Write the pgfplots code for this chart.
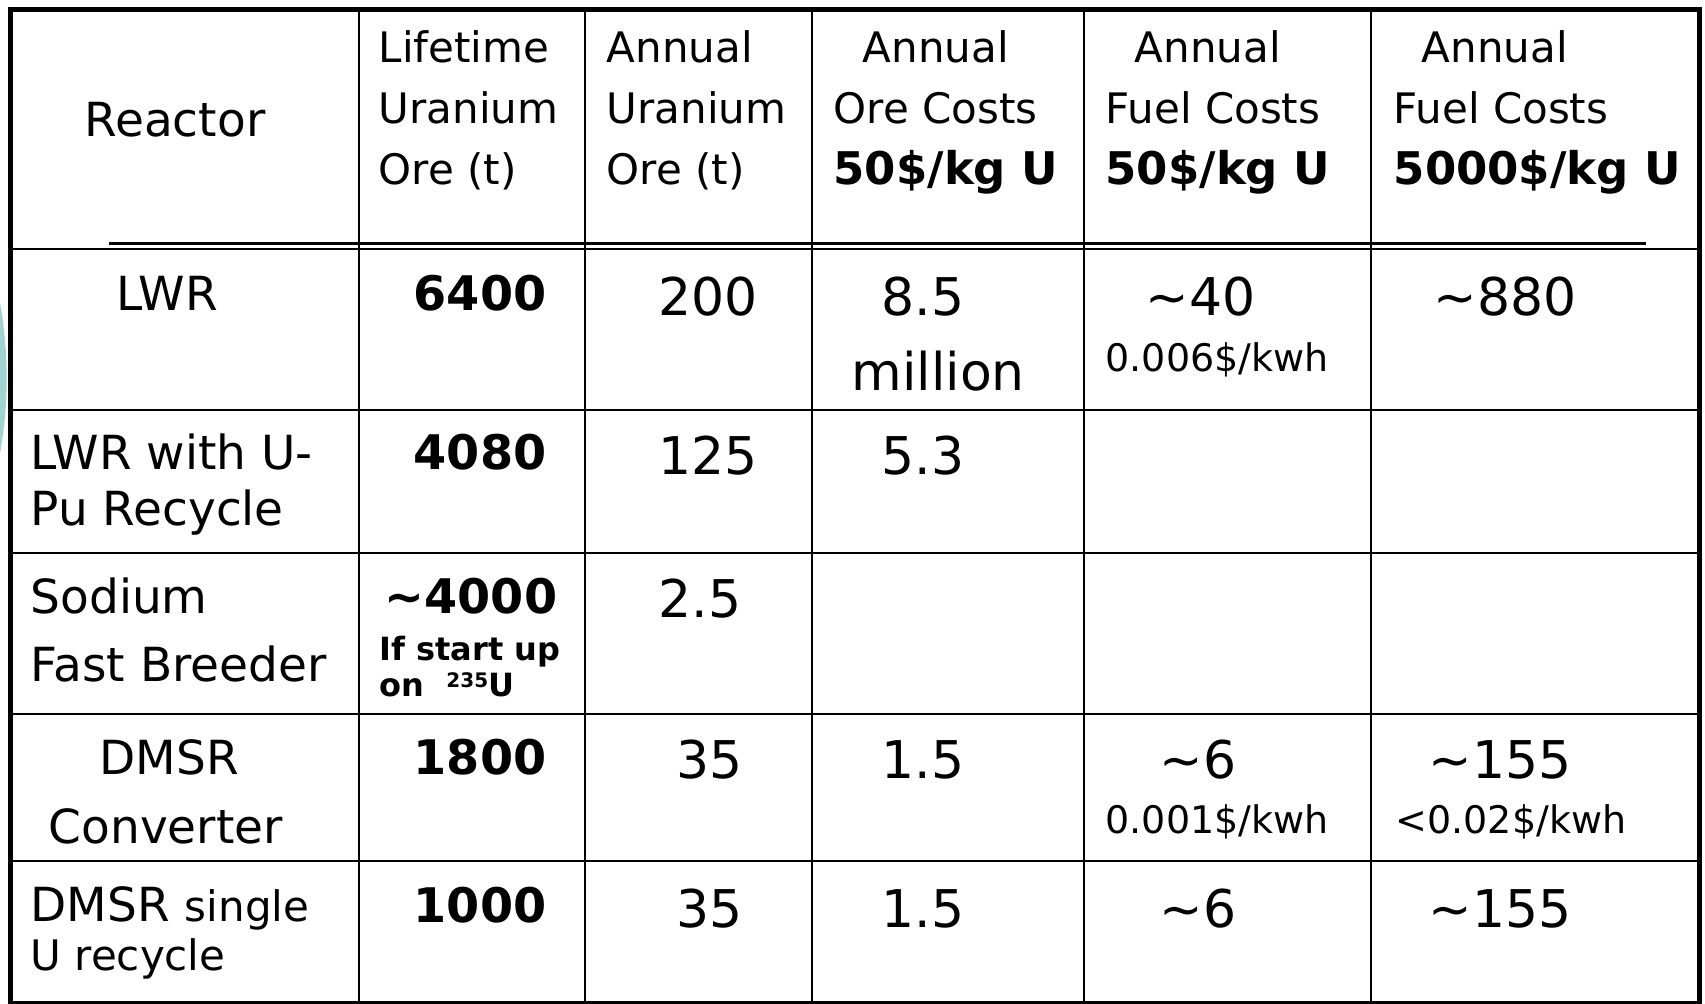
\documentclass[border=0pt]{standalone}
\usepackage{pgfplots}
\pgfplotsset{compat=1.18}
\usepackage{fontspec}
\setmainfont{DejaVu Sans}
\definecolor{teal1}{RGB}{160,211,210}
\newcommand\fH{\fontsize{12.6pt}{15pt}\selectfont}
\newcommand\fHB{\fontsize{13.5pt}{15pt}\selectfont\bfseries}
\newcommand\fN{\fontsize{14.1pt}{17pt}\selectfont}
\newcommand\fS{\fontsize{12.6pt}{15pt}\selectfont}
\newcommand\fB{\fontsize{14.3pt}{17pt}\selectfont\bfseries}
\newcommand\fV{\fontsize{15.6pt}{18pt}\selectfont}
\newcommand\fK{\fontsize{11.4pt}{14pt}\selectfont}
\newcommand\fI{\fontsize{9.6pt}{12pt}\selectfont\bfseries}
\newcommand\T[4]{\node[anchor=base west, inner sep=0pt, font=#3] at (axis cs:#1,#2) {#4};}
\begin{document}
\begin{tikzpicture}
\begin{axis}[
  width=511.5pt, height=301.2pt, scale only axis,
  xmin=0, xmax=1705, ymin=0, ymax=1004, y dir=reverse,
  hide axis, clip=false,
  unbounded coords=jump,
]
\path (axis cs:0,0) rectangle (axis cs:1705,1004);
\begin{scope}
\clip (axis cs:0,0) rectangle (axis cs:1705,1004);
\fill[teal1] (axis cs:-420,378) circle[radius=128pt];
\end{scope}
\fill[white] (axis cs:10.5,9.5) rectangle (axis cs:1699.5,1001.5);
% inner grid lines
\addplot[black, line width=0.8pt] coordinates {
 (359,9.5) (359,1001.5) (nan,nan)
 (585,9.5) (585,1001.5) (nan,nan)
 (812,9.5) (812,1001.5) (nan,nan)
 (1084,9.5) (1084,1001.5) (nan,nan)
 (1371,9.5) (1371,1001.5) (nan,nan)
 (10.5,249) (1699.5,249) (nan,nan)
 (10.5,410) (1699.5,410) (nan,nan)
 (10.5,553) (1699.5,553) (nan,nan)
 (10.5,714) (1699.5,714) (nan,nan)
 (10.5,861) (1699.5,861)
};
% header underline
\addplot[black, line width=0.9pt] coordinates {(109,244) (1646,244)};
% outer border
\addplot[black, line width=1.5pt] coordinates {
 (10.5,1001.5) (10.5,9.5) (1699.5,9.5) (1699.5,1001.5)};
\addplot[black, line width=0.9pt] coordinates {(8,1002.5) (1702,1002.5)};
% header
\T{84}{137}{\fN}{Reactor}
\T{378}{63}{\fH}{Lifetime}
\T{378}{124}{\fH}{Uranium}
\T{378}{185}{\fH}{Ore (t)}
\T{606}{63}{\fH}{Annual}
\T{606}{124}{\fH}{Uranium}
\T{606}{185}{\fH}{Ore (t)}
\T{862}{63}{\fH}{Annual}
\T{833}{124}{\fH}{Ore Costs}
\T{833}{185}{\fHB}{50\$/kg U}
\T{1134}{63}{\fH}{Annual}
\T{1105}{124}{\fH}{Fuel Costs}
\T{1105}{185}{\fHB}{50\$/kg U}
\T{1421}{63}{\fH}{Annual}
\T{1393}{124}{\fH}{Fuel Costs}
\T{1393}{185}{\fHB}{5000\$/kg U}
% row 1: LWR
\T{116}{311}{\fN}{LWR}
\T{413}{311}{\fB}{6400}
\T{658}{316}{\fV}{200}
\T{881}{316}{\fV}{8.5}
\T{851}{391}{\fV}{million}
\T{1145}{316}{\fV}{\textasciitilde 40}
\T{1105}{372}{\fK}{0.006\$/kwh}
\T{1433}{316}{\fV}{\textasciitilde 880}
% row 2
\T{30}{470}{\fN}{LWR with U-}
\T{30}{526}{\fN}{Pu Recycle}
\T{413}{470}{\fB}{4080}
\T{658}{475}{\fV}{125}
\T{881}{475}{\fV}{5.3}
% row 3
\T{30}{614}{\fN}{Sodium}
\T{30}{682}{\fN}{Fast Breeder}
\T{384}{614}{\fB}{\textasciitilde 4000}
\T{379}{661}{\fI}{If start up}
\T{379}{697}{\fI}{on\hspace{6.6pt}\raisebox{2.7pt}{\fontsize{6pt}{7pt}\selectfont 235}U}
\T{658}{618}{\fV}{2.5}
% row 4
\T{99}{775}{\fN}{DMSR}
\T{48}{844}{\fN}{Converter}
\T{413}{775}{\fB}{1800}
\T{676}{779}{\fV}{35}
\T{881}{779}{\fV}{1.5}
\T{1159}{779}{\fV}{\textasciitilde 6}
\T{1105}{834}{\fK}{0.001\$/kwh}
\T{1428}{779}{\fV}{\textasciitilde 155}
\T{1395}{834}{\fK}{<0.02\$/kwh}
% row 5
\T{30}{922}{\fN}{DMSR {\fS single}}
\T{30}{971}{\fS}{U recycle}
\T{413}{923}{\fB}{1000}
\T{676}{928}{\fV}{35}
\T{881}{928}{\fV}{1.5}
\T{1159}{928}{\fV}{\textasciitilde 6}
\T{1428}{928}{\fV}{\textasciitilde 155}
\end{axis}
\end{tikzpicture}
\end{document}
